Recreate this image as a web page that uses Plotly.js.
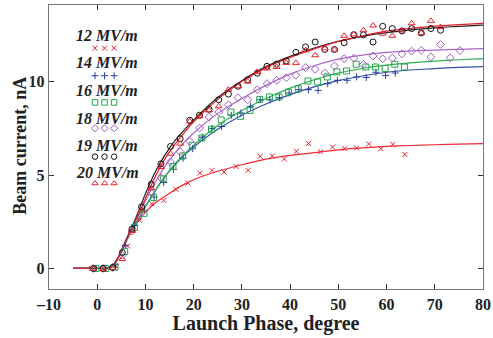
<!DOCTYPE html>
<html>
<head>
<meta charset="utf-8">
<script src="https://cdn.plot.ly/plotly-3.0.1.min.js"></script>
<style>html,body{margin:0;padding:0;background:#fff;}#chart{width:493px;height:338px;}</style>
</head>
<body>
<div id="chart"></div>
<script>
// ---- data ----
const seriesNames = ["12 MV/m", "14 MV/m", "16 MV/m", "18 MV/m", "19 MV/m", "20 MV/m"];

// fitted curves
const fitX = [-5, 0, 2, 3, 4, 5, 6, 7, 8, 9, 10, 12, 14, 16, 18, 20, 25, 30, 35, 40, 45, 50, 55, 60, 65, 70, 75, 80];
const fit12 = [0, 0, 0, 0.1, 0.4, 0.9, 1.45, 1.95, 2.35, 2.7, 3.0, 3.5, 3.85, 4.2, 4.5, 4.75, 5.2, 5.55, 5.85, 6.05, 6.2, 6.35, 6.45, 6.53, 6.58, 6.62, 6.65, 6.68];
const fit14 = [0, 0, 0, 0.1, 0.4, 0.9, 1.45, 1.95, 2.4, 2.85, 3.3, 4.15, 4.9, 5.5, 6.05, 6.5, 7.45, 8.2, 8.8, 9.3, 9.72, 10.05, 10.3, 10.5, 10.62, 10.7, 10.76, 10.8];
const fit16 = [0, 0, 0, 0.1, 0.4, 0.9, 1.45, 1.95, 2.4, 2.85, 3.3, 4.15, 4.9, 5.55, 6.1, 6.6, 7.65, 8.45, 9.1, 9.65, 10.1, 10.45, 10.7, 10.88, 11.0, 11.1, 11.17, 11.23];
const fit18 = [0, 0, 0, 0.1, 0.4, 0.9, 1.5, 2.0, 2.55, 3.05, 3.6, 4.6, 5.45, 6.15, 6.75, 7.25, 8.3, 9.1, 9.8, 10.4, 10.85, 11.2, 11.42, 11.56, 11.64, 11.69, 11.73, 11.76];
const fit19 = [0, 0, 0, 0.1, 0.45, 0.95, 1.55, 2.1, 2.7, 3.35, 4.0, 5.15, 6.05, 6.8, 7.4, 7.95, 9.15, 10.05, 10.8, 11.35, 11.8, 12.15, 12.42, 12.62, 12.77, 12.88, 12.96, 13.02];
const fit20 = [0, 0, 0, 0.1, 0.4, 0.9, 1.5, 2.05, 2.6, 3.15, 3.75, 4.9, 5.85, 6.6, 7.25, 7.85, 9.05, 10.0, 10.75, 11.3, 11.75, 12.15, 12.45, 12.7, 12.85, 12.97, 13.05, 13.12];

// measured points
const x12 = [-1.2, 1.3, 3.8, 6.3, 8.8, 11.3, 13.8, 16.3, 18.8, 21.3, 23.8, 26.3, 28.8, 31.3, 33.8, 36.3, 38.8, 41.3, 43.8, 46.3, 48.8, 51.3, 53.8, 56.3, 58.8, 61.3, 63.8];
const y12 = [0.0, 0.0, 0.15, 1.2, 2.57, 3.46, 3.64, 4.23, 4.57, 5.1, 5.25, 5.16, 5.46, 5.25, 6.0, 6.02, 5.86, 6.27, 6.69, 6.25, 6.5, 6.41, 6.45, 6.66, 6.41, 6.64, 6.1];

const x14 = [-0.2, 1.8, 3.8, 5.8, 7.8, 9.8, 11.8, 13.8, 15.8, 17.8, 19.8, 21.8, 23.8, 25.8, 27.8, 29.8, 31.8, 33.8, 35.8, 37.8, 39.8, 41.8, 43.8, 45.8, 47.8, 49.8, 51.8, 53.8, 55.8, 57.8, 59.8, 61.8];
const y14 = [0.0, 0.0, 0.2, 1.23, 2.3, 3.1, 3.82, 4.6, 5.3, 5.9, 6.41, 7.03, 7.5, 7.6, 8.2, 8.32, 8.68, 9.03, 9.03, 9.14, 9.39, 9.57, 9.57, 9.53, 9.89, 10.07, 10.07, 10.25, 10.22, 10.5, 10.33, 10.46];

const x16 = [-0.3, 1.7, 3.7, 5.7, 7.7, 9.7, 11.7, 13.7, 15.7, 17.7, 19.7, 21.7, 23.7, 25.7, 27.7, 29.7, 31.7, 33.7, 35.7, 37.7, 39.7, 41.7, 43.7, 45.7, 47.7, 49.7, 51.7, 53.7, 55.7, 57.7, 59.7, 61.7, 63.7];
const y16 = [0.0, 0.0, 0.07, 0.9, 2.2, 2.95, 3.8, 4.8, 5.46, 6.02, 6.59, 6.98, 7.45, 7.95, 8.37, 8.14, 8.46, 9.05, 9.18, 9.18, 9.44, 9.62, 10.03, 9.98, 10.25, 10.52, 10.57, 10.93, 10.78, 10.78, 10.7, 10.93, 10.78];

const x18 = [-0.8, 1.2, 3.2, 5.2, 7.2, 9.2, 11.2, 13.2, 15.2, 17.2, 19.2, 21.2, 23.2, 25.2, 27.2, 29.2, 31.2, 33.2, 35.2, 37.2, 39.2, 41.2, 43.2, 45.2, 47.2, 49.2, 51.2, 53.2, 55.2, 57.2, 59.2, 61.2, 63.2, 65.2, 67.2, 69.2, 71.2, 73.2, 75.2];
const y18 = [0.0, 0.0, 0.05, 0.7, 2.0, 3.0, 4.05, 4.85, 5.7, 6.25, 6.8, 7.52, 8.1, 8.37, 8.76, 9.14, 9.03, 9.57, 9.89, 10.07, 10.21, 10.34, 10.75, 10.66, 10.46, 10.84, 11.23, 11.26, 10.92, 11.37, 11.22, 11.26, 11.48, 11.63, 11.68, 11.32, 11.99, 11.27, 11.66];

const x19 = [-0.8, 1.2, 3.2, 5.2, 7.2, 9.2, 11.2, 13.2, 15.2, 17.2, 19.2, 21.2, 23.2, 25.2, 27.2, 29.2, 31.2, 33.2, 35.2, 37.2, 39.2, 41.2, 43.2, 45.2, 47.2, 49.2, 51.2, 53.2, 55.2, 57.2, 59.2, 61.2, 63.2, 65.2, 67.2, 69.2, 71.2];
const y19 = [0.0, 0.0, 0.05, 0.85, 2.1, 3.3, 4.5, 5.6, 6.53, 6.94, 7.93, 8.2, 8.52, 9.03, 9.33, 9.75, 10.1, 10.45, 10.82, 10.93, 11.1, 11.57, 11.86, 12.12, 11.72, 11.72, 12.08, 12.51, 12.5, 12.12, 12.96, 12.84, 12.71, 12.84, 12.6, 12.84, 12.75];

const x20 = [-0.8, 1.2, 3.2, 5.2, 7.2, 9.2, 11.2, 13.2, 15.2, 17.2, 19.2, 21.2, 23.2, 25.2, 27.2, 29.2, 31.2, 33.2, 35.2, 37.2, 39.2, 41.2, 43.2, 45.2, 47.2, 49.2, 51.2, 53.2, 55.2, 57.2, 59.2, 61.2, 63.2, 65.2, 67.2, 69.2, 71.2];
const y20 = [0.0, -0.05, 0.02, 0.5, 2.0, 3.1, 4.3, 5.43, 6.14, 6.68, 7.87, 8.14, 8.46, 8.68, 9.57, 9.75, 10.0, 10.52, 10.7, 10.78, 11.0, 11.0, 11.68, 11.41, 11.78, 11.71, 12.45, 12.53, 12.75, 13.0, 12.57, 12.45, 12.73, 13.12, 12.6, 13.25, 12.92];

const xTicks = [-10, 0, 10, 20, 30, 40, 50, 60, 70, 80];
const yTicks = [0, 5, 10];

// ---- styles ----
const colors = ["#e8212b", "#2b3f9e", "#1fa64a", "#a05cc0", "#111111", "#e8212b"];
const lineColors = ["#ee2a36", "#3350aa", "#2cb050", "#a866c6", "#222222", "#e01f2d"];
const symbols = ["x-thin-open", "cross-thin-open", "square-open", "diamond-open", "circle-open", "triangle-up-open"];
const sizes = [5, 5, 6, 6, 6, 6];
const legSizes = [5, 5, 5.5, 5.5, 5.5, 5.5];

const fits = [fit12, fit14, fit16, fit18, fit19, fit20];
const xs = [x12, x14, x16, x18, x19, x20];
const ys = [y12, y14, y16, y18, y19, y20];

const traces = [];
for (let i = 0; i < 6; i++) {
  traces.push({
    x: fitX, y: fits[i], type: "scatter", mode: "lines",
    line: {color: lineColors[i], width: 1.2, shape: "spline", smoothing: 0.6},
    hoverinfo: "skip", showlegend: false
  });
}
for (let i = 0; i < 6; i++) {
  traces.push({
    x: xs[i], y: ys[i], type: "scatter", mode: "markers",
    marker: {symbol: symbols[i], size: sizes[i], color: colors[i], line: {color: colors[i], width: 1}},
    showlegend: false, name: seriesNames[i]
  });
}

// legend built inside the plot (overlay axes in 0..1 units)
const legMarkX = [0.106, 0.128, 0.150];
const legMarkY = [0.848, 0.751, 0.657, 0.566, 0.466, 0.372];
const legTextY = [0.891, 0.796, 0.698, 0.601, 0.505, 0.410];
const annotations = [];
for (let i = 0; i < 6; i++) {
  traces.push({
    x: legMarkX, y: [legMarkY[i], legMarkY[i], legMarkY[i]],
    xaxis: "x2", yaxis: "y2", type: "scatter", mode: "markers",
    marker: {symbol: symbols[i], size: legSizes[i], color: colors[i], line: {color: colors[i], width: 1}},
    showlegend: false, hoverinfo: "skip"
  });
  annotations.push({
    xref: "paper", yref: "paper", x: 0.134, y: legTextY[i],
    xanchor: "center", yanchor: "middle", showarrow: false,
    text: "<b><i>" + seriesNames[i] + "</i></b>",
    font: {family: "Liberation Serif", size: 16, color: "#222"}
  });
}
// y-axis title placed as annotation
annotations.push({
  xref: "paper", yref: "paper", x: -0.067, y: 0.504,
  xanchor: "center", yanchor: "middle", showarrow: false, textangle: -90,
  text: "<b>Beam current, nA</b>",
  font: {family: "Liberation Serif", size: 18, color: "#222"}
});

const axisCommon = {
  showline: true, linecolor: "#777", linewidth: 1.3, mirror: "ticks",
  ticks: "inside", ticklen: 5, tickcolor: "#333", tickwidth: 1,
  showgrid: false, zeroline: false,
  tickfont: {family: "Liberation Serif", size: 16, color: "#222", weight: "bold"}
};

const layout = {
  width: 493, height: 338,
  margin: {l: 49, r: 10, t: 5, b: 49},
  paper_bgcolor: "#fff", plot_bgcolor: "#fff",
  showlegend: false,
  xaxis: Object.assign({}, axisCommon, {
    range: [-10, 80], tickvals: xTicks, ticktext: xTicks.map(v => v < 0 ? "\u2013" + Math.abs(v) : String(v)),
    title: {text: "<b>Launch Phase, degree</b>", standoff: 3,
      font: {family: "Liberation Serif", size: 20, color: "#222"}}
  }),
  yaxis: Object.assign({}, axisCommon, {
    range: [-1.1, 14.1], tickvals: yTicks, ticktext: yTicks.map(String)
  }),
  xaxis2: {overlaying: "x", range: [0, 1], visible: false, fixedrange: true},
  yaxis2: {overlaying: "y", range: [0, 1], visible: false, fixedrange: true},
  annotations: annotations
};

Plotly.newPlot("chart", traces, layout, {displayModeBar: false, staticPlot: true});
</script>
</body>
</html>
